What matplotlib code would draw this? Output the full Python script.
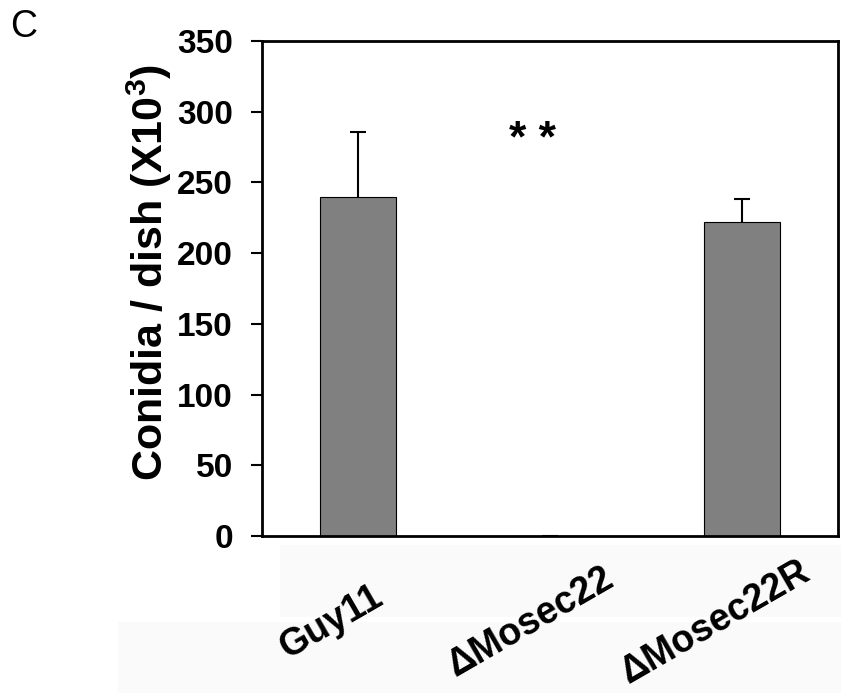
import numpy as np
import matplotlib.pyplot as plt
from matplotlib.patches import Rectangle
import matplotlib.transforms as mtransforms

strains = ['Guy11', 'ΔMosec22', 'ΔMosec22R']
conidia = [240, 0, 222]
err_up = [46, 0, 16]
signif = '* *'
signif_y = 280

plt.rcParams['font.family'] = ['Liberation Sans', 'DejaVu Sans']
plt.rcParams['mathtext.fontset'] = 'custom'
plt.rcParams['mathtext.rm'] = 'Liberation Sans:bold'
plt.rcParams['mathtext.bf'] = 'Liberation Sans:bold'

fig = plt.figure(figsize=(8.41, 6.93), dpi=100)
# faint grey scan patches behind the category labels
bg = fig.add_axes([0, 0, 1, 1], zorder=-5)
bg.set_xlim(0, 841)
bg.set_ylim(693, 0)
bg.axis('off')
bg.add_patch(Rectangle((280, 545), 561, 72, color='#fafafa', lw=0))
bg.add_patch(Rectangle((118, 622), 723, 71, color='#fafafa', lw=0))

ax = fig.add_axes([262/841, 1-536/693, 576/841, 495/693])
ax.patch.set_alpha(0)
x = np.arange(len(strains))
bars = ax.bar(x, conidia, width=0.4, color='#808080', edgecolor='black', linewidth=0.8,
              yerr=[np.zeros(3), err_up],
              error_kw=dict(ecolor='black', elinewidth=1.5, capsize=6, capthick=1.5))
# only the upper caps are drawn in the original
caps = bars.errorbar.lines[1]
if len(caps) == 2:
    caps[0].set_visible(False)
ax.set_xlim(-0.5, 2.5)
ax.set_ylim(0, 350)
ax.set_yticks(np.arange(0, 351, 50))
ax.set_xticks(x)
ax.set_xticklabels([])
ax.tick_params(axis='x', length=0)
ax.tick_params(axis='y', direction='out', length=8, width=1.5, labelsize=24, pad=13)
for t in ax.get_yticklabels():
    t.set_fontweight('bold')
for s in ax.spines.values():
    s.set_linewidth(2)

# rotated category labels
dx = [-0.27, -0.19, -0.27]
for xi, name, d in zip(x, strains, dx):
    tr = ax.get_xaxis_transform() + mtransforms.ScaledTranslation(d, -0.86, fig.dpi_scale_trans)
    ax.text(xi, 0, name, transform=tr, rotation=30, rotation_mode='anchor',
            ha='center', va='center', fontsize=27, fontweight='bold')

ax.set_ylabel('Conidia / dish (X10$^3$)', fontsize=31, fontweight='bold')
ax.yaxis.set_label_coords(-0.152, 0.533)

ax.text(0.91, signif_y, signif, ha='center', va='center', fontsize=32, fontweight='bold')
fig.text(10/841, 1-37/693, 'C', fontsize=27)

fig.savefig('out.png', dpi=100)
